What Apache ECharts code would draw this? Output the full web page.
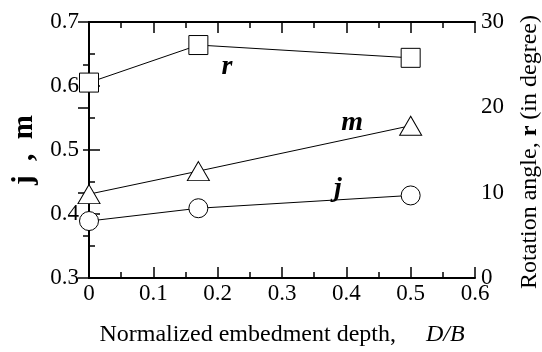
<!DOCTYPE html>
<html>
<head>
<meta charset="utf-8">
<script src="https://cdn.jsdelivr.net/npm/echarts@6/dist/echarts.min.js"></script>
<style>
  html, body { margin: 0; padding: 0; background: #fff; }
  #chart { width: 542px; height: 352px; }
</style>
</head>
<body>
<div id="chart"></div>
<script>
// normalized embedment depth D/B
var depth = [0, 0.17, 0.5];
// left axis values
var phiValues = [0.389, 0.409, 0.429];
var muValues = [0.431, 0.467, 0.538];
// right axis: rotation angle (degree)
var rotValues = [22.9, 27.3, 25.8];

var FONT = 'Liberation Serif';
var TICK_FS = 23;

function pairs(xs, ys) {
    return xs.map(function (x, i) { return [x, ys[i]]; });
}

var chart = echarts.init(document.getElementById('chart'));

var markerStyle = {color: '#fff', borderColor: '#000', borderWidth: 1};
var lineStyle = {color: '#000', width: 1};
var axisLine = {lineStyle: {color: '#000', width: 2}};
var axisTick = {inside: true, length: 11, lineStyle: {color: '#000', width: 1.5}};
var minorTick = {show: true, splitNumber: 2, length: 6, lineStyle: {color: '#000', width: 1.5}};

// text tag drawn inside the plot (curve names)
function tag(text, x, y) {
    return {
        symbol: 'circle',
        symbolSize: 1,
        itemStyle: {color: 'rgba(0,0,0,0)'},
        data: [{coord: [x, y], value: 0}],
        label: {
            show: true, position: 'inside', formatter: text, color: '#000',
            fontFamily: FONT, fontSize: 28, fontWeight: 'bold', fontStyle: 'italic'
        }
    };
}

chart.setOption({
    animation: false,
    backgroundColor: '#fff',
    textStyle: {fontFamily: FONT, color: '#000'},
    grid: {left: 89, right: 67, top: 22, bottom: 73},
    // right axis title, reading bottom to top
    graphic: [{
        type: 'text',
        x: 530, y: 152,
        rotation: Math.PI / 2,
        style: {
            text: '{n|Rotation angle, }{b|r}{n| (in degree)}',
            align: 'center', verticalAlign: 'middle',
            rich: {
                n: {fontFamily: FONT, fontSize: 24, fill: '#000'},
                b: {fontFamily: FONT, fontSize: 24, fill: '#000', fontWeight: 'bold'}
            }
        }
    }],
    xAxis: [{
        type: 'value', min: 0, max: 0.6, interval: 0.1,
        name: '{n|Normalized embedment depth,     }{i|D/B}',
        nameLocation: 'middle', nameGap: 45,
        nameTextStyle: {
            rich: {
                n: {fontFamily: FONT, fontSize: 24, color: '#000'},
                i: {fontFamily: FONT, fontSize: 24, color: '#000', fontStyle: 'italic'}
            }
        },
        axisLine: axisLine, axisTick: axisTick, minorTick: minorTick,
        axisLabel: {color: '#000', fontFamily: FONT, fontSize: TICK_FS, margin: 4},
        splitLine: {show: false}
    }, {
        type: 'value', min: 0, max: 0.6, interval: 0.1, position: 'top',
        axisLine: axisLine, axisTick: axisTick, minorTick: minorTick,
        axisLabel: {show: false},
        splitLine: {show: false}
    }],
    yAxis: [{
        type: 'value', min: 0.3, max: 0.7, interval: 0.1,
        name: 'j  ,  m', nameLocation: 'middle', nameGap: 50, nameRotate: 90,
        nameTextStyle: {fontFamily: FONT, fontSize: 29, fontWeight: 'bold', color: '#000'},
        axisLine: axisLine, axisTick: axisTick, minorTick: minorTick,
        axisLabel: {color: '#000', fontFamily: FONT, fontSize: TICK_FS, margin: 10,
            formatter: function (v) { return v.toFixed(1); }},
        splitLine: {show: false}
    }, {
        type: 'value', min: 0, max: 30, interval: 10, position: 'right',
        axisLine: axisLine, axisTick: axisTick, minorTick: minorTick,
        axisLabel: {color: '#000', fontFamily: FONT, fontSize: TICK_FS, margin: 6},
        splitLine: {show: false}
    }],
    series: [{
        name: 'j', type: 'line', yAxisIndex: 0,
        data: pairs(depth, phiValues),
        symbol: 'circle', symbolSize: 19, itemStyle: markerStyle, lineStyle: lineStyle,
        markPoint: tag('j', 0.387, 0.44)
    }, {
        name: 'm', type: 'line', yAxisIndex: 0,
        data: pairs(depth, muValues),
        symbol: 'triangle', symbolSize: [22, 19], itemStyle: markerStyle, lineStyle: lineStyle,
        markPoint: tag('m', 0.409, 0.542)
    }, {
        name: 'r', type: 'line', yAxisIndex: 1,
        data: pairs(depth, rotValues),
        symbol: 'rect', symbolSize: 19, itemStyle: markerStyle, lineStyle: lineStyle,
        markPoint: tag('r', 0.2145, 24.75)
    }]
});
</script>
</body>
</html>
